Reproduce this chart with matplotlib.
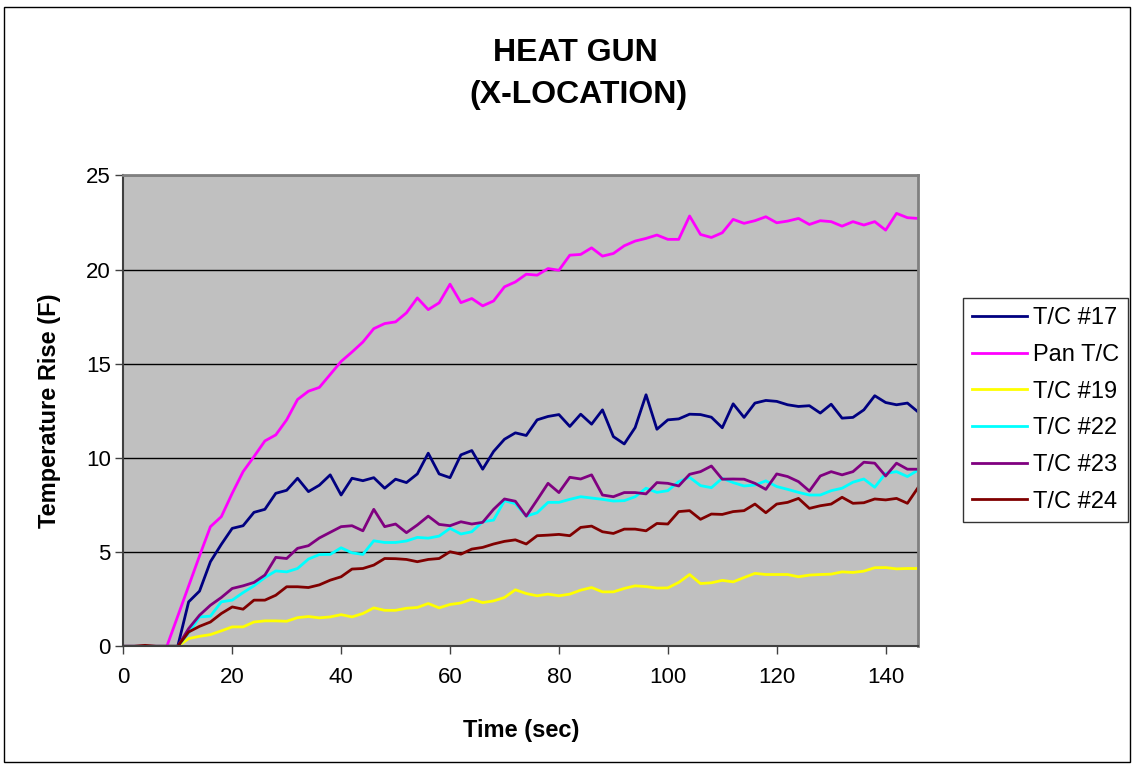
import numpy as np
import matplotlib
matplotlib.use("Agg")
import matplotlib.pyplot as plt
from matplotlib.patches import Rectangle

plt.rcParams['font.family'] = ['Liberation Sans', 'DejaVu Sans']

# time axis, one reading every 2 s
time_s = np.arange(0, 147, 2)

tc17 = [0, 0, 0, 0, 0, 0, 2.36, 2.93, 4.49, 5.41, 6.26, 6.40, 7.11, 7.27, 8.12, 8.28, 8.92, 8.21, 8.55,
        9.10, 8.03, 8.92, 8.79, 8.95, 8.39, 8.87, 8.69, 9.15, 10.25, 9.15, 8.95, 10.16, 10.39, 9.40, 10.34,
        10.99, 11.33, 11.19, 12.02, 12.20, 12.30, 11.67, 12.32, 11.79, 12.55, 11.13, 10.74, 11.61, 13.35,
        11.52, 12.02, 12.07, 12.32, 12.30, 12.16, 11.60, 12.87, 12.15, 12.91, 13.05, 13.00, 12.82, 12.73,
        12.77, 12.38, 12.85, 12.11, 12.15, 12.55, 13.30, 12.94, 12.82, 12.91, 12.43]
pan_tc = [0, 0, 0, 0, 0, 1.6, 3.2, 4.8, 6.35, 6.88, 8.12, 9.27, 10.07, 10.90, 11.22, 12.02, 13.10, 13.54,
          13.74, 14.43, 15.12, 15.62, 16.15, 16.86, 17.13, 17.22, 17.70, 18.49, 17.87, 18.23, 19.22, 18.24,
          18.46, 18.07, 18.33, 19.08, 19.34, 19.75, 19.70, 20.05, 19.96, 20.76, 20.80, 21.15, 20.71, 20.85,
          21.26, 21.51, 21.65, 21.83, 21.60, 21.60, 22.84, 21.86, 21.70, 21.95, 22.66, 22.45, 22.59, 22.80,
          22.48, 22.57, 22.71, 22.39, 22.59, 22.54, 22.30, 22.54, 22.36, 22.54, 22.09, 22.98, 22.75, 22.71]
tc19 = [0, 0, 0, 0, 0, 0, 0.41, 0.53, 0.62, 0.82, 1.03, 1.03, 1.29, 1.35, 1.35, 1.33, 1.52, 1.58, 1.51,
        1.56, 1.68, 1.56, 1.74, 2.04, 1.91, 1.91, 2.02, 2.06, 2.27, 2.04, 2.22, 2.30, 2.50, 2.32, 2.41, 2.59,
        3.00, 2.80, 2.68, 2.77, 2.68, 2.77, 2.98, 3.12, 2.89, 2.89, 3.07, 3.21, 3.17, 3.09, 3.10, 3.39, 3.81,
        3.33, 3.37, 3.50, 3.42, 3.65, 3.87, 3.81, 3.81, 3.81, 3.69, 3.78, 3.81, 3.83, 3.95, 3.92, 3.99, 4.17,
        4.18, 4.11, 4.13, 4.13]
tc22 = [0, 0, 0, 0, 0, 0, 0.71, 1.56, 1.60, 2.36, 2.45, 2.85, 3.21, 3.65, 4.00, 3.95, 4.13, 4.63, 4.87,
        4.88, 5.23, 4.96, 4.88, 5.60, 5.51, 5.51, 5.59, 5.78, 5.74, 5.85, 6.26, 5.96, 6.08, 6.61, 6.70, 7.73,
        7.57, 6.91, 7.09, 7.64, 7.64, 7.80, 7.94, 7.87, 7.80, 7.71, 7.73, 7.94, 8.39, 8.17, 8.26, 8.74, 8.97,
        8.53, 8.42, 8.92, 8.69, 8.51, 8.56, 8.78, 8.48, 8.33, 8.17, 8.03, 8.03, 8.26, 8.39, 8.71, 8.88, 8.44,
        9.18, 9.27, 9.01, 9.36]
tc23 = [0, 0, 0, 0, 0, 0, 0.94, 1.65, 2.18, 2.59, 3.07, 3.21, 3.39, 3.78, 4.72, 4.66, 5.20, 5.34, 5.75,
        6.05, 6.35, 6.40, 6.13, 7.27, 6.35, 6.49, 6.03, 6.44, 6.91, 6.47, 6.40, 6.61, 6.49, 6.58, 7.27, 7.82,
        7.70, 6.91, 7.77, 8.65, 8.16, 8.97, 8.88, 9.10, 8.03, 7.94, 8.16, 8.16, 8.09, 8.69, 8.65, 8.51, 9.13,
        9.27, 9.57, 8.87, 8.88, 8.87, 8.65, 8.33, 9.15, 9.01, 8.74, 8.24, 9.04, 9.27, 9.10, 9.27, 9.77, 9.72,
        9.04, 9.72, 9.40, 9.40]
tc24 = [0, 0, 0.05, 0, 0, 0, 0.76, 1.06, 1.29, 1.74, 2.09, 1.97, 2.45, 2.45, 2.71, 3.16, 3.16, 3.12, 3.26,
        3.51, 3.69, 4.10, 4.13, 4.31, 4.66, 4.65, 4.61, 4.49, 4.61, 4.66, 5.02, 4.89, 5.16, 5.25, 5.43, 5.57,
        5.65, 5.43, 5.87, 5.90, 5.94, 5.87, 6.31, 6.38, 6.08, 5.99, 6.22, 6.22, 6.13, 6.52, 6.49, 7.15, 7.20,
        6.74, 7.02, 7.00, 7.15, 7.20, 7.55, 7.09, 7.55, 7.64, 7.85, 7.32, 7.46, 7.55, 7.91, 7.59, 7.62, 7.82,
        7.77, 7.85, 7.59, 8.44]

series = [("T/C #17", tc17, "#000080"),
          ("Pan T/C", pan_tc, "#FF00FF"),
          ("T/C #19", tc19, "#FFFF00"),
          ("T/C #22", tc22, "#00FFFF"),
          ("T/C #23", tc23, "#800080"),
          ("T/C #24", tc24, "#800000")]

fig = plt.figure(figsize=(11.32, 7.64), dpi=100)
ax = fig.add_axes([123.3/1132, 1 - 646.3/764, (918.3 - 123.3)/1132, (646.3 - 175.3)/764])
ax.set_facecolor("#C0C0C0")

for name, vals, col in series:
    ax.plot(time_s, vals, color=col, lw=2, label=name)

ax.set_xlim(0, 146)
ax.set_ylim(0, 25)
ax.set_xticks(range(0, 141, 20))
ax.set_yticks(range(0, 26, 5))
ax.yaxis.grid(True, color="black", lw=1)
ax.set_axisbelow(True)
ax.tick_params(labelsize=16, length=6, width=1, color="#404040")
ax.tick_params(axis="x", pad=9)
ax.tick_params(axis="y", pad=3)
for s in ["top", "right"]:
    ax.spines[s].set_color("#808080")
    ax.spines[s].set_linewidth(2)
for s in ["left", "bottom"]:
    ax.spines[s].set_color("#404040")
    ax.spines[s].set_linewidth(1.5)

ax.set_xlabel("Time (sec)", fontsize=17, fontweight="bold", labelpad=22)
ax.set_ylabel("Temperature Rise (F)", fontsize=17, fontweight="bold", labelpad=18)

fig.text(575/1132, 1 - 53/764, "HEAT GUN", ha="center", va="center", fontsize=23, fontweight="bold")
fig.text(578/1132, 1 - 95/764, "(X-LOCATION)", ha="center", va="center", fontsize=23, fontweight="bold")

leg = fig.legend(loc="center left", bbox_to_anchor=(963/1132, 1 - 410/764), fontsize=17,
                 frameon=True, fancybox=False, edgecolor="black", handlelength=2.3,
                 handletextpad=0.25, labelspacing=0.62, borderpad=0.4, borderaxespad=0)
leg.get_frame().set_linewidth(1)

fig.patches.append(Rectangle((4/1132, 2/764), 1126/1132, 755/764, transform=fig.transFigure,
                             fill=False, edgecolor="black", lw=1))

plt.savefig("out.png", dpi=100)
